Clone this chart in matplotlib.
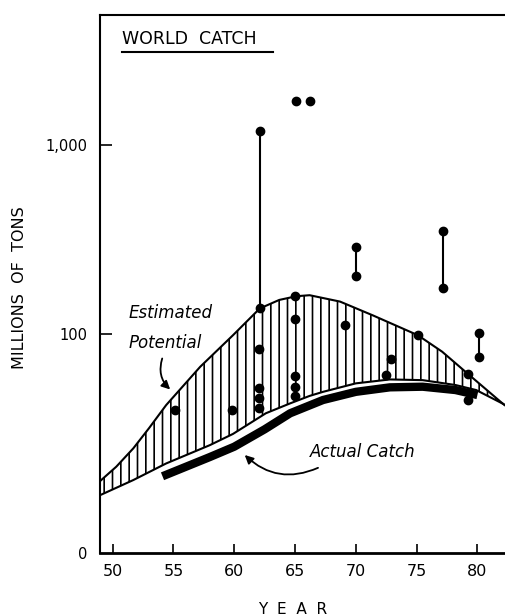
import matplotlib
matplotlib.use("Agg")
import matplotlib.pyplot as plt

# Estimated potential band (upper and lower edges), millions of tons
pot_up_years = [48.6, 50.3, 51.7, 53.0, 54.4, 57.2, 59.9, 62.1, 63.7, 65.1, 66.2, 68.7, 71.4, 75.1, 77.1, 79.2, 82.1, 82.8]
pot_up_vals = [16.0, 20.0, 25.0, 32.0, 42.3, 67.4, 99.0, 137, 152, 159, 161, 149, 126, 99, 81, 62, 43, 40]
pot_low_years = [48.6, 51.7, 54.4, 58.0, 59.9, 62.6, 64.6, 66.2, 67.3, 70.0, 72.8, 75.5, 78.2, 79.9, 82.1, 82.8]
pot_low_vals = [13.8, 17.0, 20.8, 26.0, 29.8, 38.3, 43.2, 47.3, 49.7, 55.1, 57.8, 57.3, 54.0, 50.8, 43, 40]

# Actual catch
catch_years = [54.1, 58.0, 60.0, 62.5, 64.6, 67.3, 70.0, 72.8, 75.5, 78.2, 80.0]
catch_vals = [17.8, 22.5, 25.5, 31.5, 38.3, 45.0, 49.7, 52.5, 52.9, 50.8, 47.8]

# single estimates
dot_years = [55.1, 59.8, 62.05, 62.05, 62.05, 62.05, 65.0, 65.0, 65.0, 65.0, 65.0,
             65.1, 66.2, 69.1, 72.5, 72.9, 75.1, 79.2, 79.2]
dot_vals = [40, 40, 84, 52, 46, 41, 159, 121, 60, 53, 47,
            1714, 1714, 112, 61, 74, 99, 62, 45]

# range estimates (low, high)
range_years = [62.1, 70.05, 77.15, 80.1]
range_low = [137, 203, 176, 76]
range_high = [1186, 289, 351, 102]

plt.rcParams["hatch.linewidth"] = 1.2
plt.rcParams["font.family"] = "DejaVu Sans"

fig = plt.figure(figsize=(5.05, 6.16), dpi=100)
ax = fig.add_axes([100 / 505, 63 / 616, 405 / 505, 538 / 616])
ax.set_yscale("log")

band_x = pot_up_years + pot_low_years[::-1]
band_y = pot_up_vals + pot_low_vals[::-1]
ax.fill(band_x, band_y, facecolor="white", edgecolor="black", lw=0, hatch="||")
ax.plot(pot_up_years, pot_up_vals, color="black", lw=1.5)
ax.plot(pot_low_years, pot_low_vals, color="black", lw=1.5)

ax.plot(catch_years, catch_vals, color="black", lw=6, solid_capstyle="butt")

for yr, lo, hi in zip(range_years, range_low, range_high):
    ax.plot([yr, yr], [lo, hi], color="black", lw=1.5, marker="o", ms=6)
ax.plot(dot_years, dot_vals, "o", color="black", ms=6)

ax.set_xlim(48.96, 82.27)
ax.set_ylim(7.0, 4864)

ax.set_xticks([50, 55, 60, 65, 70, 75, 80])
ax.set_xticklabels(["50", "55", "60", "65", "70", "75", "80"])
ax.set_yticks([7.0, 100, 1000])
ax.set_yticklabels(["0", "100", "1,000"])
ax.yaxis.set_minor_locator(matplotlib.ticker.NullLocator())
ax.tick_params(axis="x", direction="in", length=6.5, width=1.2, labelsize=11.5, pad=8)
ax.tick_params(axis="y", direction="in", length=8.5, width=1.2, labelsize=10.5, pad=9)
ax.get_yticklines()[0].set_visible(False)
ax.get_yticklines()[1].set_visible(False)

ax.spines["right"].set_visible(False)
ax.spines["left"].set_linewidth(1.5)
ax.spines["top"].set_linewidth(1.5)
ax.spines["bottom"].set_linewidth(2)

# title with underline
ax.text(0.054, 0.955, "WORLD  CATCH", transform=ax.transAxes, fontsize=12.5,
        ha="left", va="center")
ax.plot([0.054, 0.428], [0.932, 0.932], transform=ax.transAxes, color="black",
        lw=1.5, clip_on=False)

# annotations
ax.text(51.3, 130, "Estimated", fontsize=12, style="italic", ha="left", va="center")
ax.text(51.3, 90, "Potential", fontsize=12, style="italic", ha="left", va="center")
ax.annotate("", xy=(54.9, 50), xytext=(54.15, 77),
            arrowprops=dict(arrowstyle="-|>,head_length=0.5,head_width=0.25",
                            connectionstyle="arc3,rad=0.35", color="black", lw=1.3))
ax.text(66.2, 24, "Actual Catch", fontsize=12, style="italic", ha="left", va="center")
ax.annotate("", xy=(60.7, 23.6), xytext=(67.1, 20.0),
            arrowprops=dict(arrowstyle="-|>,head_length=0.5,head_width=0.25",
                            connectionstyle="arc3,rad=-0.35", color="black", lw=1.3))

fig.text(20 / 505, 1 - 288 / 616, "MILLIONS  OF  TONS", rotation=90, fontsize=11.5,
         ha="center", va="center")
fig.text(292.5 / 505, 1 - 610 / 616, "Y  E  A  R", fontsize=11, ha="center", va="center")

fig.savefig("out.png", dpi=100)
